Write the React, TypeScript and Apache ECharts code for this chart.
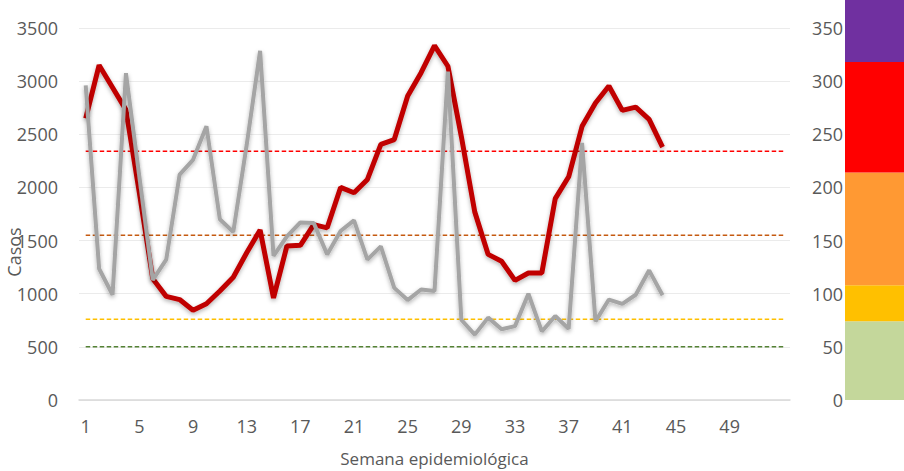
import React, { useEffect, useRef } from "react";
import * as echarts from "echarts";

// Semanas epidemiológicas 1..53
const semanas: string[] = [
  "1","2","3","4","5","6","7","8","9","10","11","12","13","14","15","16","17","18",
  "19","20","21","22","23","24","25","26","27","28","29","30","31","32","33","34","35",
  "36","37","38","39","40","41","42","43","44","45","46","47","48","49","50","51","52","53",
];

// Serie roja (casos año actual)
const casosActual: number[] = [
  2650, 3150, 2940, 2730, 1950, 1140, 975, 945, 845, 905,
  1025, 1155, 1385, 1600, 960, 1450, 1455, 1650, 1620, 2000,
  1950, 2075, 2405, 2450, 2860, 3080, 3335, 3140, 2480, 1770,
  1370, 1305, 1125, 1195, 1195, 1895, 2100, 2575, 2795, 2955,
  2725, 2755, 2640, 2380,
];

// Serie gris
const casosComparacion: number[] = [
  2960, 1235, 990, 3075, 2100, 1130, 1320, 2120, 2260, 2575,
  1700, 1580, 2400, 3285, 1355, 1540, 1670, 1665, 1370, 1590,
  1690, 1320, 1445, 1055, 940, 1040, 1025, 3090, 755, 615,
  775, 665, 695, 1000, 645, 790, 670, 2420, 740, 945,
  905, 990, 1220, 985,
];

// Umbrales (líneas discontinuas)
const umbrales: number[] = [2340, 1550, 760, 500];
const umbralColores: string[] = ["#ff0000", "#c55a11", "#ffc000", "#548235"];

// Barra de niveles de riesgo (eje derecho)
const riesgoValores: number[] = [74, 34, 106, 104, 62];
const riesgoColores: string[] = ["#c4d79b", "#ffc000", "#ff9933", "#ff0000", "#7030a0"];
const riesgoCategoria: string[] = ["Riesgo"];

const leftTicks = { min: 0, max: 3500, interval: 500 };
const rightTicks = { min: 0, max: 350, interval: 50 };

export default function App() {
  const ref = useRef<HTMLDivElement>(null);

  useEffect(() => {
    if (!ref.current) return;
    const chart = echarts.init(ref.current, null, { renderer: "svg" });
    const font = "'Open Sans', sans-serif";
    const labelColor = "#595959";
    const plain = (v: number) => String(v);

    const thresholdSeries = umbrales.map((u, i) => ({
      type: "line",
      xAxisIndex: 0,
      yAxisIndex: 0,
      data: semanas.map(() => u),
      showSymbol: false,
      symbol: "none",
      silent: true,
      lineStyle: { color: umbralColores[i], width: 1.5, type: [4.5, 2.5] },
      z: 2,
    }));

    const barSeries = riesgoValores.map((v, i) => ({
      type: "bar",
      xAxisIndex: 1,
      yAxisIndex: 1,
      stack: "riesgo",
      data: [v],
      barWidth: "100%",
      clip: false,
      itemStyle: { color: riesgoColores[i] },
      silent: true,
    }));

    chart.setOption({
      animation: false,
      backgroundColor: "#ffffff",
      textStyle: { fontFamily: font },
      grid: [
        { left: 79, right: 114, top: 28, bottom: 71, containLabel: false, outerBoundsMode: "none" },
        { left: 845, width: 60, top: 28, bottom: 71, containLabel: false, outerBoundsMode: "none" },
      ],
      xAxis: [
        {
          type: "category",
          gridIndex: 0,
          data: semanas,
          boundaryGap: true,
          axisTick: { show: false },
          axisLine: { lineStyle: { color: "#d9d9d9", width: 1.5 } },
          axisLabel: {
            color: labelColor,
            fontSize: 18,
            fontFamily: font,
            margin: 17,
            interval: (idx: number) => idx % 4 === 0 && idx < 52,
          },
          name: "Semana epidemiológica",
          nameLocation: "middle",
          nameGap: 48,
          nameTextStyle: { color: labelColor, fontSize: 17, fontFamily: font, lineHeight: 20 },
        },
        {
          type: "category",
          gridIndex: 1,
          data: riesgoCategoria,
          boundaryGap: true,
          show: false,
        },
      ],
      yAxis: [
        {
          type: "value",
          gridIndex: 0,
          ...leftTicks,
          axisLine: { show: false },
          axisTick: { show: false },
          splitLine: { lineStyle: { color: "#ebebeb", width: 1.2 } },
          axisLabel: { color: labelColor, fontSize: 18, fontFamily: font, margin: 21, formatter: plain },
        },
        {
          type: "value",
          gridIndex: 1,
          position: "left",
          ...rightTicks,
          axisLine: { show: false },
          axisTick: { show: false },
          splitLine: { show: false },
          axisLabel: { color: labelColor, fontSize: 18, fontFamily: font, margin: 2, formatter: plain },
        },
      ],
      graphic: [
        {
          type: "text",
          x: 14,
          y: 252,
          rotation: Math.PI / 2,
          style: {
            text: "Casos",
            fill: labelColor,
            fontSize: 18,
            fontFamily: font,
            align: "center",
            verticalAlign: "middle",
          },
        },
      ],
      series: [
        ...thresholdSeries,
        {
          type: "line",
          name: "Casos actuales",
          xAxisIndex: 0,
          yAxisIndex: 0,
          data: casosActual,
          showSymbol: false,
          symbol: "none",
          lineStyle: {
            color: "#c00000",
            width: 5,
            shadowColor: "rgba(0,0,0,0.3)",
            shadowBlur: 4,
            shadowOffsetY: 2,
          },
          z: 3,
        },
        {
          type: "line",
          name: "Comparación",
          xAxisIndex: 0,
          yAxisIndex: 0,
          data: casosComparacion,
          showSymbol: false,
          symbol: "none",
          lineStyle: {
            color: "#a5a5a5",
            width: 4,
            shadowColor: "rgba(0,0,0,0.3)",
            shadowBlur: 4,
            shadowOffsetY: 2,
          },
          z: 4,
        },
        ...barSeries,
      ],
    });

    return () => chart.dispose();
  }, []);

  return (
    <div
      ref={ref}
      style={{ position: "fixed", left: 0, top: 0, width: 904, height: 471, background: "#fff" }}
    />
  );
}
